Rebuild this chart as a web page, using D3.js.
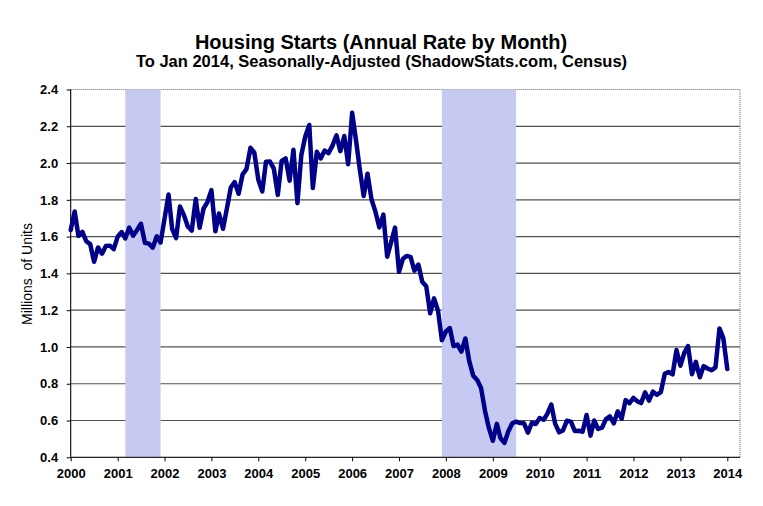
<!doctype html>
<html lang="en">
  <head>
    <meta charset="utf-8">
    <script src="https://d3js.org/d3.v7.min.js"></script>
    <title>Housing Starts</title>
    <style>
      body { margin: 0; background: #fff; }
      svg { display: block; font-family: Arial, "Liberation Sans", sans-serif; }
      .tick text { font-size: 13px; font-weight: bold; fill: #000; }
      .tick line { stroke: #000; }
    </style>
  </head>
  <body>
    <svg width="763" height="506"></svg>

    <script>
      // Housing starts, millions of units (SAAR), monthly from Jan 2000 to Jan 2014
      const starts2000 = [1.636, 1.737, 1.604, 1.626, 1.575, 1.559, 1.463, 1.541, 1.507, 1.549, 1.551, 1.532];
      const starts2001 = [1.600, 1.625, 1.590, 1.649, 1.605, 1.636, 1.670, 1.567, 1.562, 1.540, 1.602, 1.568];
      const starts2002 = [1.698, 1.829, 1.642, 1.592, 1.764, 1.717, 1.655, 1.633, 1.804, 1.648, 1.753, 1.788];
      const starts2003 = [1.853, 1.629, 1.726, 1.643, 1.751, 1.867, 1.897, 1.833, 1.939, 1.967, 2.083, 2.057];
      const starts2004 = [1.911, 1.846, 2.007, 2.008, 1.970, 1.827, 2.012, 2.025, 1.904, 2.072, 1.782, 2.042];
      const starts2005 = [2.144, 2.207, 1.864, 2.061, 2.025, 2.068, 2.054, 2.095, 2.151, 2.065, 2.147, 1.994];
      const starts2006 = [2.273, 2.119, 1.969, 1.821, 1.942, 1.802, 1.737, 1.650, 1.720, 1.491, 1.570, 1.649];
      const starts2007 = [1.409, 1.480, 1.495, 1.490, 1.415, 1.448, 1.354, 1.330, 1.183, 1.264, 1.197, 1.037];
      const starts2008 = [1.084, 1.103, 1.005, 1.013, 0.975, 1.046, 0.923, 0.844, 0.820, 0.777, 0.652, 0.560];
      const starts2009 = [0.490, 0.582, 0.505, 0.478, 0.540, 0.585, 0.594, 0.586, 0.585, 0.534, 0.588, 0.581];
      const starts2010 = [0.614, 0.604, 0.636, 0.687, 0.583, 0.536, 0.546, 0.599, 0.594, 0.543, 0.545, 0.539];
      const starts2011 = [0.630, 0.518, 0.600, 0.554, 0.561, 0.608, 0.623, 0.585, 0.650, 0.610, 0.711, 0.694];
      const starts2012 = [0.723, 0.704, 0.695, 0.753, 0.708, 0.757, 0.740, 0.754, 0.854, 0.864, 0.851, 0.983];
      const starts2013 = [0.898, 0.969, 1.005, 0.852, 0.919, 0.835, 0.896, 0.883, 0.873, 0.889, 1.101, 1.048];
      const starts2014 = [0.880];

      // recession periods (first month, month after the last)
      const recessions = [
        { from: "2001-03", to: "2001-12" },
        { from: "2007-12", to: "2009-07" }
      ];

      const yTicks = [0.4, 0.6, 0.8, 1.0, 1.2, 1.4, 1.6, 1.8, 2.0, 2.2, 2.4];

      const allStarts = [].concat(starts2000, starts2001, starts2002, starts2003, starts2004,
        starts2005, starts2006, starts2007, starts2008, starts2009, starts2010,
        starts2011, starts2012, starts2013, starts2014);

      const startDate = new Date(2000, 0, 1);
      const data = allStarts.map((v, i) => ({ date: d3.timeMonth.offset(startDate, i), value: v }));
      const parseMonth = d3.timeParse("%Y-%m");

      const plotLeft = 70.7, plotRight = 740, plotTop = 89.5, plotBottom = 457.3;

      const x = d3.scaleTime()
        .domain([new Date(2000, 0, 1), new Date(2014, 0, 1)])
        .range([plotLeft, 727.3]);

      const y = d3.scaleLinear()
        .domain([0.4, 2.4])
        .range([plotBottom, plotTop]);

      const svg = d3.select("svg");

      // gridlines
      svg.append("g")
        .selectAll("line")
        .data(yTicks.slice(1, -1))
        .enter().append("line")
        .attr("x1", plotLeft).attr("x2", plotRight)
        .attr("y1", d => y(d)).attr("y2", d => y(d))
        .attr("stroke", "#505050")
        .attr("stroke-width", 1.2);

      // plot border (dotted grey)
      svg.append("rect")
        .attr("x", plotLeft).attr("y", plotTop)
        .attr("width", plotRight - plotLeft).attr("height", plotBottom - plotTop)
        .attr("fill", "none")
        .attr("stroke", "#666")
        .attr("stroke-dasharray", "1,1");

      // recession bands
      svg.append("g")
        .selectAll("rect")
        .data(recessions)
        .enter().append("rect")
        .attr("x", d => x(parseMonth(d.from)))
        .attr("width", d => x(parseMonth(d.to)) - x(parseMonth(d.from)))
        .attr("y", plotTop)
        .attr("height", plotBottom - plotTop)
        .attr("fill", "#c6caf3");

      // axes
      const xAxis = d3.axisBottom(x)
        .ticks(d3.timeYear.every(1))
        .tickFormat(d3.timeFormat("%Y"))
        .tickSize(4)
        .tickPadding(7.5);

      svg.append("g")
        .attr("transform", `translate(0,${plotBottom})`)
        .call(xAxis)
        .call(g => g.select(".domain").remove());

      const yAxis = d3.axisLeft(y)
        .tickValues(yTicks)
        .tickFormat(d3.format(".1f"))
        .tickSize(4)
        .tickPadding(8.5);

      svg.append("g")
        .attr("transform", `translate(${plotLeft},0)`)
        .call(yAxis)
        .call(g => g.select(".domain").remove());

      svg.append("line")
        .attr("x1", plotLeft).attr("x2", plotLeft)
        .attr("y1", plotTop).attr("y2", plotBottom)
        .attr("stroke", "#000");

      svg.append("line")
        .attr("x1", plotLeft).attr("x2", plotRight)
        .attr("y1", plotBottom).attr("y2", plotBottom)
        .attr("stroke", "#000");

      // the series
      const line = d3.line()
        .x(d => x(d.date))
        .y(d => y(d.value));

      svg.append("path")
        .datum(data)
        .attr("fill", "none")
        .attr("stroke", "#000088")
        .attr("stroke-width", 4.5)
        .attr("stroke-linejoin", "round")
        .attr("stroke-linecap", "round")
        .attr("d", line);

      // titles
      svg.append("text")
        .attr("x", 381).attr("y", 49)
        .attr("text-anchor", "middle")
        .style("font-size", "20px").style("font-weight", "bold")
        .text("Housing Starts (Annual Rate by Month)");

      svg.append("text")
        .attr("x", 381.5).attr("y", 67)
        .attr("text-anchor", "middle")
        .style("font-size", "16.5px").style("font-weight", "bold")
        .text("To Jan 2014, Seasonally-Adjusted (ShadowStats.com, Census)");

      svg.append("text")
        .attr("transform", "translate(32,274) rotate(-90)")
        .attr("text-anchor", "middle")
        .style("font-size", "14px")
        .style("white-space", "pre")
        .text("Millions  of Units");
    </script>
  </body>
</html>
